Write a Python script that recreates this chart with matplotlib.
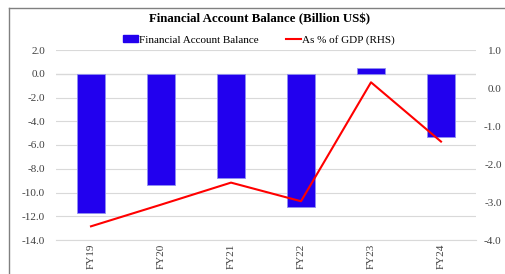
import numpy as np
import matplotlib.pyplot as plt
from matplotlib.lines import Line2D

years = ['FY19', 'FY20', 'FY21', 'FY22', 'FY23', 'FY24']
balance = [-11.7, -9.4, -8.8, -11.2, 0.45, -5.3]   # billion US$
pct_gdp = [-3.64, -3.07, -2.49, -2.98, 0.15, -1.41]  # % of GDP (RHS)

plt.rcParams['font.family'] = ['Liberation Serif', 'DejaVu Serif']

fig = plt.figure(figsize=(5.05, 2.74), dpi=100)
ax = fig.add_axes([56/505, 1 - 240/274, 420/505, 190/274])
x = np.arange(len(years))

ax.bar(x, balance, width=0.4, color='#2200EE', edgecolor='#9090F0', linewidth=0.6, zorder=3)
ax.set_ylim(-14, 2)
ax.set_yticks(np.arange(-14, 2.1, 2))
ax.set_yticklabels(['%.1f' % v for v in np.arange(-14, 2.1, 2)])
ax.set_xlim(-0.5, 5.5)
ax.set_xticks(x)
ax.set_xticklabels(years, rotation=90)
ax.grid(axis='y', color='#D9D9D9', linewidth=0.8, zorder=0)
ax.axhline(0, color='#D0D0D0', linewidth=0.9, zorder=1)
for s in ax.spines.values():
    s.set_visible(False)
ax.spines['bottom'].set_visible(True)
ax.spines['bottom'].set_color('#D9D9D9')
ax.tick_params(length=0, labelsize=8, colors='#404040', pad=8)
ax.tick_params(axis='x', pad=2.5)

ax2 = ax.twinx()
ax2.plot(x, pct_gdp, color='#FF0000', linewidth=1.5, zorder=4)
ax2.set_ylim(-4, 1)
ax2.set_yticks(np.arange(-4, 1.1, 1))
ax2.set_yticklabels(['%.1f' % v for v in np.arange(-4, 1.1, 1)], ha='right')
for s in ax2.spines.values():
    s.set_visible(False)
ax2.tick_params(length=0, labelsize=8, colors='#404040', pad=18.5)

fig.text(0.513, 1 - 19/274, 'Financial Account Balance (Billion US$)',
         ha='center', va='center', fontsize=9.3, fontweight='bold')

handles = [plt.Rectangle((0, 0), 1, 1, color='#2200EE'),
           Line2D([0], [0], color='#FF0000', linewidth=1.5)]
fig.legend(handles, ['Financial Account Balance', 'As % of GDP (RHS)'],
           loc='center', bbox_to_anchor=(0.513, 1 - 40/274), ncol=2, frameon=False,
           fontsize=8, handlelength=1.3, handletextpad=0.1, columnspacing=2.5,
           handleheight=0.6)

# outer frame
fig.add_artist(Line2D([9/505, 9/505], [0, 1 - 8/274], color='#808080', linewidth=1))
fig.add_artist(Line2D([9/505, 1], [1 - 8/274, 1 - 8/274], color='#808080', linewidth=1))

fig.savefig('out.png', dpi=100)
